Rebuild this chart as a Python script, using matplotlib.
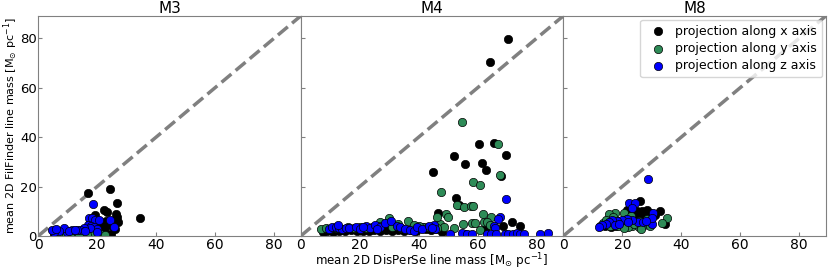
import numpy as np
import matplotlib.pyplot as plt

# panel M3
m3_x_x = [16.9, 24.4, 26.7, 22.2, 23.3, 19.4, 34.6, 26.3, 26.8, 25.8, 24.0, 22.7, 21.6, 23.3, 21.1, 24.6, 20.0, 18.0, 15.0, 12.0, 9.0, 6.0, 5.5, 26.0, 25.0, 23.0, 17.5, 20.5, 27.0, 19.0]
m3_x_y = [17.2, 19.1, 13.2, 10.5, 9.8, 8.5, 7.2, 9.0, 7.8, 6.5, 5.0, 3.8, 1.7, 0.7, 0.7, 1.0, 1.2, 1.0, 0.8, 0.7, 0.8, 0.9, 0.5, 3.0, 4.2, 6.0, 5.5, 4.0, 5.5, 1.5]
m3_y_x = [7.3, 9.5, 12.3, 14.0, 19.0, 21.0, 16.5, 22.5, 10.8]
m3_y_y = [0.3, 0.4, 0.5, 0.3, 0.6, 0.7, 0.4, 0.3, 0.2]
m3_z_x = [18.6, 17.1, 18.2, 19.4, 20.5, 24.4, 25.6, 17.0, 18.0, 19.0, 19.8, 17.5, 15.4, 14.3, 13.2, 11.5, 9.8, 8.7, 7.0, 5.3, 4.7, 6.0, 10.5, 12.5, 16.0, 20.0]
m3_z_y = [12.8, 7.2, 7.2, 6.5, 6.5, 6.5, 3.8, 4.5, 4.2, 3.8, 3.0, 3.3, 3.1, 2.4, 2.4, 2.4, 1.8, 3.1, 2.2, 1.8, 2.6, 2.9, 2.0, 2.6, 2.0, 1.8]

# panel M4
m4_x_x = [70.2, 64.3, 60.4, 65.5, 51.8, 69.6, 55.6, 61.3, 62.9, 45.0, 67.8, 52.6, 53.8, 46.6, 71.5, 68.5, 74.4, 62.5, 47.9, 55.7,
          7.5, 9.0, 11.0, 13.0, 15.0, 17.0, 19.0, 21.0, 23.0, 25.0, 27.0, 29.0, 31.0, 33.0, 35.0, 37.0, 39.0, 41.0, 42.5, 44.0, 46.0, 41.3]
m4_x_y = [79.6, 70.2, 37.2, 37.5, 32.5, 32.8, 29.1, 29.4, 26.5, 25.9, 24.3, 15.3, 12.6, 9.2, 5.8, 4.2, 4.0, 2.7, 1.8, 1.0,
          1.8, 2.0, 1.8, 2.2, 2.0, 2.4, 2.0, 2.2, 1.9, 2.5, 2.0, 2.6, 2.1, 2.4, 2.0, 2.6, 2.2, 3.2, 3.0, 2.5, 2.8, 3.6]
m4_y_x = [54.7, 67.0, 67.7, 58.4, 60.6, 47.5, 52.9, 55.4, 57.6, 58.3, 49.3, 49.8, 61.7, 64.5, 62.0, 63.1, 58.0, 59.1, 55.0, 51.8,
          47.1, 48.4, 46.2, 45.0, 60.8, 64.0, 29.8, 36.3, 41.4, 26.8, 46.3,
          7.0, 8.5, 10.0, 12.0, 14.0, 16.0, 18.0, 20.0, 22.0, 24.0, 27.0, 31.0, 34.0, 38.0, 40.0, 43.0, 33.0, 38.5]
m4_y_y = [46.0, 37.1, 24.8, 21.9, 20.6, 17.9, 12.6, 11.6, 12.1, 12.3, 8.8, 7.6, 8.8, 7.6, 5.8, 5.8, 5.1, 5.1, 4.7, 3.1,
          4.9, 3.8, 3.1, 3.8, 2.4, 4.5, 7.2, 6.2, 3.8, 5.8, 7.8,
          2.8, 3.2, 3.0, 3.4, 3.0, 3.5, 3.2, 3.6, 3.3, 3.8, 4.0, 3.6, 3.2, 3.0, 4.2, 3.5, 4.8, 4.4]
m4_z_x = [69.6, 67.6, 67.0, 65.5, 65.9, 45.3, 45.5, 50.7, 54.6, 56.5, 58.0, 63.1, 64.4, 66.1, 69.3, 70.4, 71.9, 73.2, 74.3, 75.7, 81.1, 83.9,
          9.5, 10.5, 11.8, 13.0, 14.0, 15.2, 16.5, 18.6, 20.0, 22.0, 23.5, 25.3, 27.0, 28.7, 30.7, 32.7, 33.8, 35.5, 37.2, 38.5, 39.4, 41.0, 43.4, 44.5, 26.0, 21.0, 12.5]
m4_z_y = [15.0, 7.6, 6.8, 4.0, 3.1, 4.3, 2.8, 0.8, 1.3, 0.8, 0.8, 0.8, 1.0, 0.8, 0.8, 1.0, 0.8, 1.3, 0.8, 0.8, 0.8, 1.3,
          3.0, 3.8, 3.8, 3.2, 3.0, 3.1, 3.4, 3.5, 3.0, 4.0, 3.4, 4.5, 3.8, 5.1, 6.2, 4.2, 3.5, 3.0, 2.4, 2.0, 3.8, 3.0, 4.0, 3.1, 3.0, 3.6, 4.3]

# panel M8
m8_x_x = [26.0, 32.9, 34.4, 28.4, 26.7, 25.0, 23.4, 21.7, 31.2, 27.0, 25.2, 16.6, 18.0, 20.0, 16.3, 22.5, 24.0, 28.5, 30.0, 19.0, 14.0, 21.0, 26.0, 29.5]
m8_x_y = [14.2, 10.1, 4.9, 10.5, 10.3, 10.3, 10.5, 10.5, 8.5, 8.1, 8.5, 4.5, 4.2, 5.0, 3.6, 9.0, 7.5, 6.5, 7.5, 6.0, 4.0, 4.5, 5.5, 9.2]
m8_y_x = [35.2, 33.5, 17.5, 15.5, 20.6, 25.5, 23.3, 25.5, 22.0, 19.5, 18.5, 13.5, 14.5, 17.0, 21.5, 24.0, 27.5, 28.5, 16.0, 20.5, 26.5, 12.5, 29.5, 23.0]
m8_y_y = [7.2, 5.1, 9.4, 8.9, 9.2, 6.2, 3.9, 3.6, 3.6, 5.0, 3.9, 5.2, 6.5, 7.5, 7.0, 5.0, 4.5, 6.8, 4.2, 3.2, 3.0, 4.0, 4.0, 8.0]
m8_z_x = [28.8, 22.2, 24.2, 23.4, 30.3, 30.0, 29.9, 25.2, 23.4, 21.7, 20.0, 18.3, 16.6, 15.5, 14.4, 13.2, 12.1, 27.0, 17.5, 19.0, 22.0, 28.0]
m8_z_y = [23.1, 13.5, 13.5, 11.2, 9.2, 4.9, 7.1, 5.8, 6.5, 6.9, 6.5, 6.2, 6.5, 5.8, 4.9, 4.6, 3.6, 5.5, 4.5, 5.0, 5.5, 6.0]

titles = ["M3", "M4", "M8"]
panels = [
    [(m3_x_x, m3_x_y), (m3_y_x, m3_y_y), (m3_z_x, m3_z_y)],
    [(m4_x_x, m4_x_y), (m4_y_x, m4_y_y), (m4_z_x, m4_z_y)],
    [(m8_x_x, m8_x_y), (m8_y_x, m8_y_y), (m8_z_x, m8_z_y)],
]
labels = ["projection along x axis", "projection along y axis", "projection along z axis"]
colors = ["black", "seagreen", "blue"]
lim = 89

fig, axes = plt.subplots(1, 3, figsize=(8.3, 2.7), dpi=100, sharey=True)
fig.subplots_adjust(left=0.046, right=0.995, bottom=0.126, top=0.941, wspace=0)

for ax, title, series in zip(axes, titles, panels):
    # one-to-one line
    ax.plot([0, lim], [0, lim], ls='--', color='grey', lw=2.5, zorder=1)
    for (xs, ys), c, lab in zip(series, colors, labels):
        ax.scatter(xs, ys, s=36, c=c, edgecolors='black', linewidths=0.5, label=lab, zorder=2)
    ax.set_xlim(0, lim)
    ax.set_ylim(0, lim)
    ax.set_xticks([0, 20, 40, 60, 80])
    ax.set_yticks([0, 20, 40, 60, 80])
    ax.set_title(title, fontsize=11, pad=2)
    ax.tick_params(axis='x', direction='in', length=3, color='grey', labelsize=10, pad=1.5)
    ax.tick_params(axis='y', direction='in', length=3, color='grey', labelsize=9.5, pad=1)
    for sp in ax.spines.values():
        sp.set_color('grey')

axes[0].set_ylabel(r"mean 2D FilFinder line mass [M$_{\odot}$ pc$^{-1}$]", fontsize=8.0)
axes[0].yaxis.set_label_coords(-0.068, 0.5)
axes[1].set_xlabel(r"mean 2D DisPerSe line mass [M$_{\odot}$ pc$^{-1}$]", fontsize=8.6)
axes[1].xaxis.set_label_coords(0.5, -0.072)
axes[2].legend(loc='upper right', fontsize=9, handletextpad=0.4, labelspacing=0.35, borderaxespad=0.3)

fig.savefig("out.png", dpi=100)
